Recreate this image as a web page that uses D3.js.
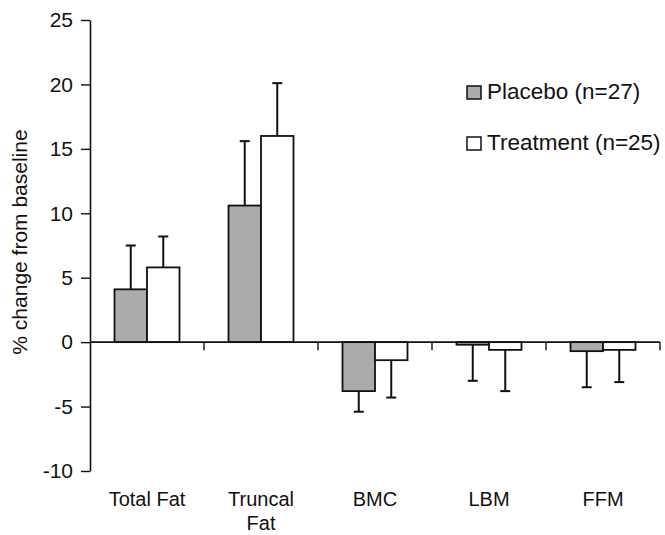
<!DOCTYPE html>
<html>
<head>
<meta charset="utf-8">
<script src="https://cdn.jsdelivr.net/npm/d3@7"></script>
<style>
  body { margin: 0; background: #fff; }
  svg text { font-family: "Liberation Sans", Arial, sans-serif; fill: #111; }
</style>
</head>
<body>
<div id="chart"></div>
<script>
// categories and series
let categories = [["Total Fat"], ["Truncal", "Fat"], ["BMC"], ["LBM"], ["FFM"]];
let seriesNames = ["Placebo (n=27)", "Treatment (n=25)"];
let placebo = [4.1, 10.6, -3.8, -0.2, -0.7];
let placeboErr = [3.4, 5.0, 1.6, 2.8, 2.8];
let treatment = [5.8, 16.0, -1.4, -0.6, -0.6];
let treatmentErr = [2.4, 4.1, 2.9, 3.2, 2.5];
let yTicks = [-10, -5, 0, 5, 10, 15, 20, 25];

let width = 665;
let height = 535;
let fills = ["#ababab", "#ffffff"];

let svg = d3.select("#chart").append("svg")
    .attr("width", width)
    .attr("height", height);

let x = d3.scaleBand()
    .domain(categories.map(d => d.join(" ")))
    .range([90, 660]);

let xSub = d3.scaleBand()
    .domain([0, 1])
    .range([0, x.bandwidth()])
    .paddingOuter(0.754);

let y = d3.scaleLinear()
    .domain([-10, 25])
    .range([471, 20]);

// rows: one per bar
let rows = [];
categories.forEach(function(c, i) {
    rows.push({cat: c.join(" "), s: 0, v: placebo[i], e: placeboErr[i]});
    rows.push({cat: c.join(" "), s: 1, v: treatment[i], e: treatmentErr[i]});
});

// y axis
let yAxis = svg.append("g")
    .attr("transform", "translate(90,0)")
    .call(d3.axisLeft(y).tickValues(yTicks).tickSize(9).tickSizeOuter(0).tickPadding(8)
        .tickFormat(d => String(d)));
yAxis.select(".domain").attr("stroke", "#111").attr("stroke-width", 1.6);
yAxis.selectAll(".tick line").attr("stroke", "#111").attr("stroke-width", 1.4);
yAxis.selectAll(".tick text").style("font-size", "21px").attr("fill", "#111");

svg.append("text")
    .attr("transform", "translate(27,242) rotate(-90)")
    .attr("text-anchor", "middle")
    .style("font-size", "21px")
    .text("% change from baseline");

// error bars (one direction only)
let err = svg.append("g").attr("stroke", "#111").attr("stroke-width", 2);
rows.forEach(function(d) {
    let cx = x(d.cat) + xSub(d.s) + xSub.bandwidth() / 2;
    let end = d.v >= 0 ? d.v + d.e : d.v - d.e;
    err.append("line")
        .attr("x1", cx).attr("x2", cx)
        .attr("y1", y(d.v)).attr("y2", y(end));
    err.append("line")
        .attr("x1", cx - 5).attr("x2", cx + 5)
        .attr("y1", y(end)).attr("y2", y(end));
});

// bars
svg.append("g")
    .selectAll("rect")
    .data(rows)
    .enter()
    .append("rect")
    .attr("x", d => x(d.cat) + xSub(d.s))
    .attr("width", xSub.bandwidth())
    .attr("y", d => y(Math.max(0, d.v)))
    .attr("height", d => Math.abs(y(d.v) - y(0)))
    .attr("fill", d => fills[d.s])
    .attr("stroke", "#111")
    .attr("stroke-width", 1.8);

// x axis at zero
let xAxis = svg.append("g").attr("stroke", "#111").attr("stroke-width", 1.6);
xAxis.append("line")
    .attr("x1", 90).attr("x2", 660)
    .attr("y1", y(0)).attr("y2", y(0));
xAxis.selectAll(".xt")
    .data(x.domain())
    .enter()
    .append("line")
    .attr("x1", d => x(d) + x.bandwidth()).attr("x2", d => x(d) + x.bandwidth())
    .attr("y1", y(0)).attr("y2", y(0) + 8)
    .attr("stroke-width", 1.4);

// category labels
let labels = svg.append("g")
    .selectAll("text")
    .data(categories)
    .enter()
    .append("text")
    .attr("x", d => x(d.join(" ")) + x.bandwidth() / 2)
    .attr("y", 506)
    .attr("text-anchor", "middle")
    .style("font-size", "20px");
labels.selectAll("tspan")
    .data(d => d)
    .enter()
    .append("tspan")
    .attr("x", function() { return d3.select(this.parentNode).attr("x"); })
    .attr("dy", (d, i) => i === 0 ? 0 : 24)
    .text(d => d);

// legend
let legend = svg.append("g")
    .selectAll("g")
    .data(seriesNames)
    .enter()
    .append("g")
    .attr("transform", (d, i) => "translate(467," + (86 + i * 51) + ")");
legend.append("rect")
    .attr("width", 14).attr("height", 13)
    .attr("fill", (d, i) => fills[i])
    .attr("stroke", "#111")
    .attr("stroke-width", 1.5);
legend.append("text")
    .attr("x", 20)
    .attr("y", 13)
    .style("font-size", "22.5px")
    .text(d => d);
</script>
</body>
</html>
